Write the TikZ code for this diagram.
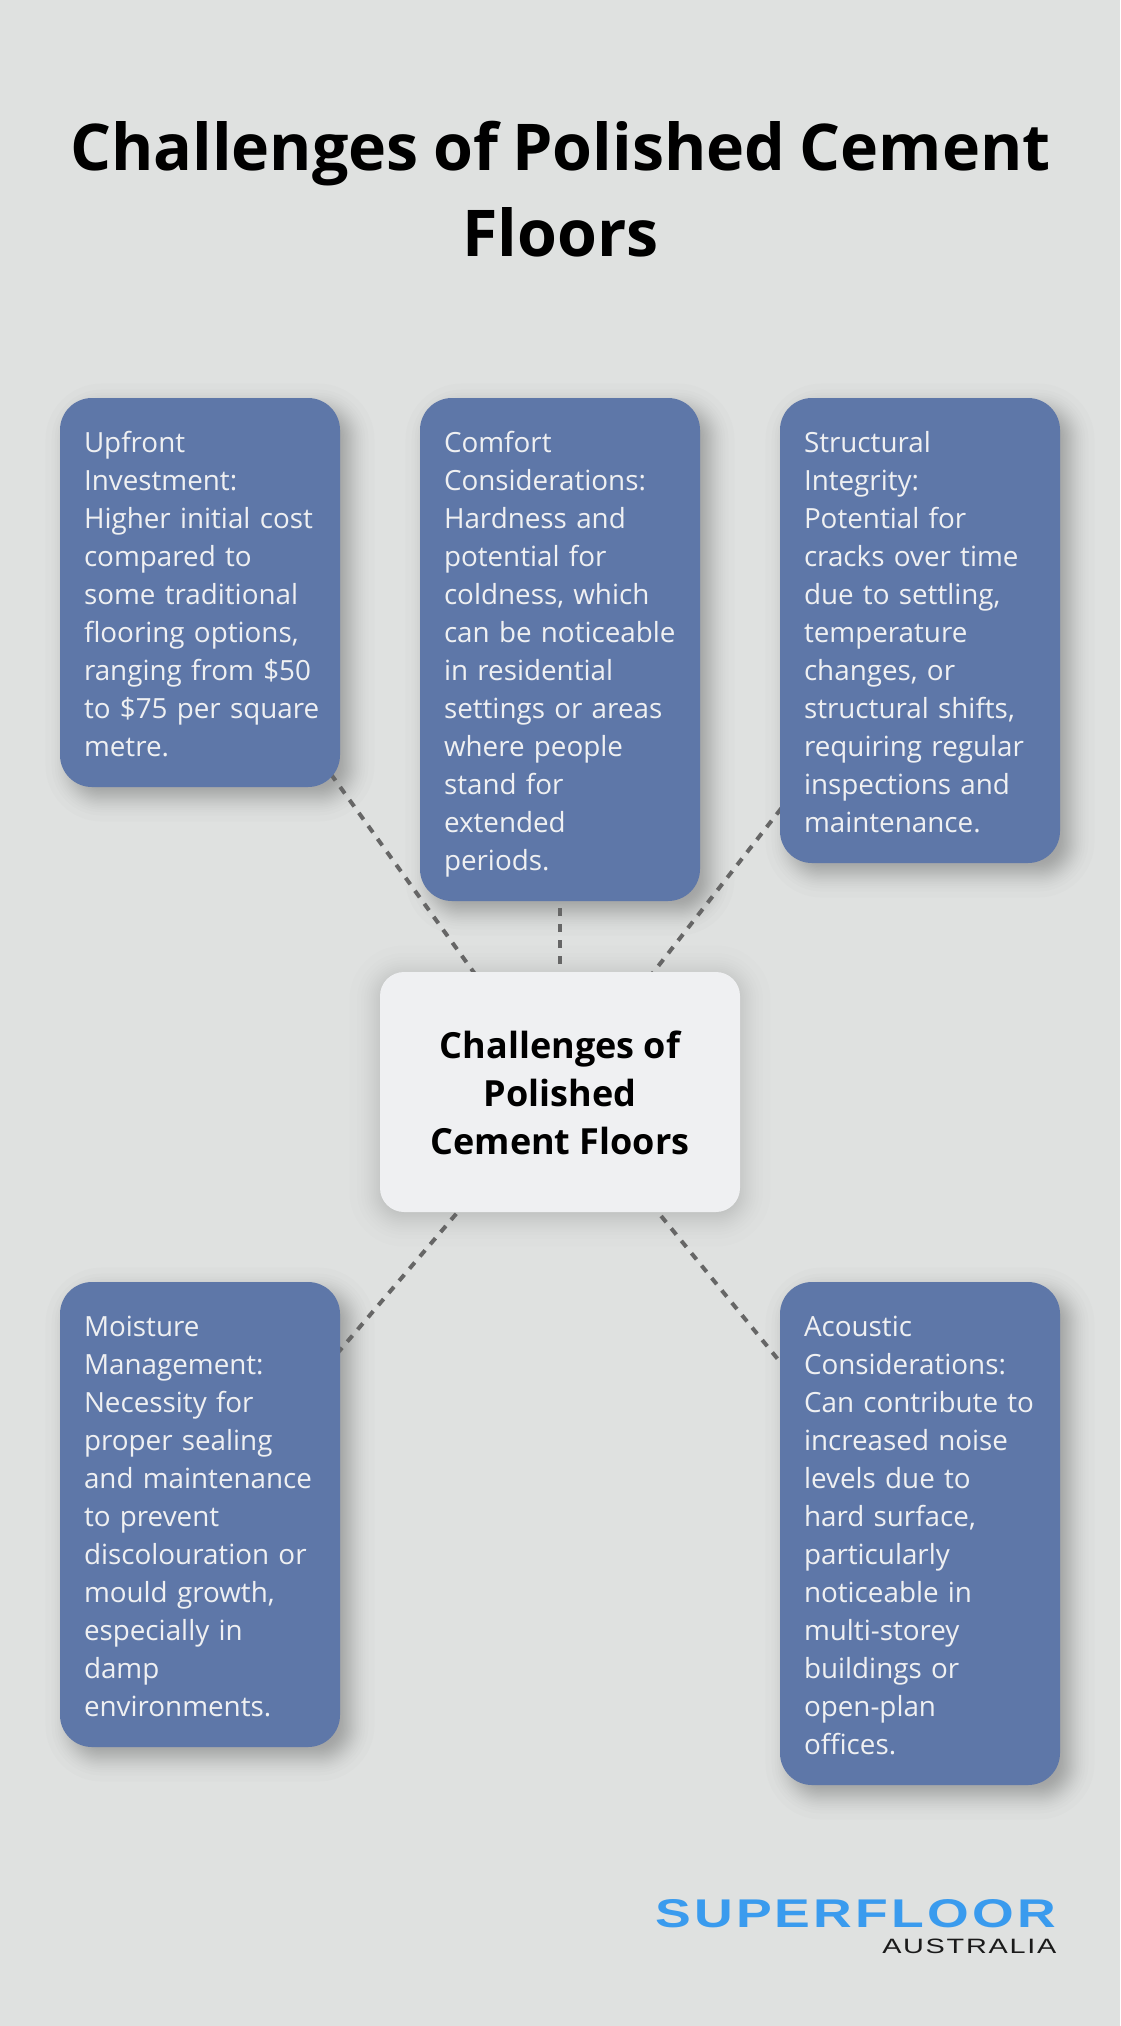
\documentclass[tikz,border=0pt]{standalone}
\usepackage{fontspec}
\usepackage{graphicx}
\setmainfont{Open Sans}
\newfontfamily\cardfont[WordSpace=0.72]{Open Sans}
\newfontfamily\titlefont[WordSpace=0.85]{Open Sans}
\newfontfamily\logofont{Liberation Sans}
\usetikzlibrary{calc}
\pgfdeclarelayer{bglayer}
\pgfdeclarelayer{shadowlayer}
\pgfdeclarelayer{linelayer}
\pgfsetlayers{bglayer,shadowlayer,linelayer,main}
\definecolor{bgcol}{HTML}{DFE1E0}
\definecolor{cardblue}{HTML}{5E77A8}
\definecolor{centrefill}{HTML}{EFF0F2}
\definecolor{linecol}{HTML}{666666}
\definecolor{logoblue}{HTML}{3A9BEE}
\definecolor{logodark}{HTML}{1A1A1A}
\newcommand{\ls}{\vrule height 30.5pt depth 7.5pt width 0pt}
\newcommand{\cl}[1]{\mbox{#1}\\}
% Gaussian-like soft shadow: stacked inflated rounded rectangles at normal quantiles
\newcommand{\softshadow}[6]{% node, radius, dx, dy, sigma, layer alpha
  \begin{pgfonlayer}{shadowlayer}
  \foreach \z in {-2.03,-1.53,-1.26,-1.05,-0.887,-0.74,-0.61,-0.49,-0.374,-0.265,-0.157,-0.052,
                  0.052,0.157,0.265,0.374,0.49,0.61,0.74,0.887,1.05,1.26,1.53,2.03}{
    \pgfmathsetmacro{\s}{#5*\z}
    \pgfmathsetmacro{\rr}{max(#2+\s,0.1)}
    \fill[black,opacity=#6,rounded corners=\rr pt]
      ($(#1.north west)+(#3-\s,#4-\s)$) rectangle ($(#1.south east)+(#3+\s,#4+\s)$);
  }
  \end{pgfonlayer}
}
\tikzset{
  card/.style={rectangle,rounded corners=32pt,fill=cardblue,text=centrefill,
    minimum width=280pt,inner xsep=24pt,inner ysep=0pt,text width=232pt,align=left,
    font=\cardfont\fontsize{27.8}{38}\selectfont},
  centrecard/.style={rectangle,rounded corners=24pt,fill=centrefill,text=black,
    minimum width=360pt,minimum height=240pt,inner sep=0pt,align=center,
    font=\fontsize{36}{48}\selectfont\bfseries},
  titletext/.style={align=center,inner sep=0pt,text=black,
    font=\titlefont\fontsize{64.5}{86}\selectfont\bfseries},
  link/.style={draw=linecol,line width=4pt,dash pattern=on 8pt off 8pt},
}
\begin{document}
\begin{tikzpicture}[x=1pt,y=-1pt]
\begin{pgfonlayer}{bglayer}
\fill[bgcol] (0,0) rectangle (1120,2026);
\end{pgfonlayer}
\useasboundingbox (0,0) rectangle (1120,2026);

\node[titletext] (title) at (560.5,189.5) {Challenges of Polished Cement\\Floors};

\node[card,minimum height=389pt] (upfront) at (200,592.5) {\ls\cl{Upfront}\cl{Investment:}\cl{Higher initial cost}\cl{compared to}\cl{some traditional}\cl{flooring options,}\cl{ranging from \$50}\cl{to \$75 per square}metre.\ls};
\node[card,minimum height=503pt] (comfort) at (560,649.5) {\ls\cl{Comfort}\cl{Considerations:}\cl{Hardness and}\cl{potential for}\cl{coldness, which}\cl{can be noticeable}\cl{in residential}\cl{settings or areas}\cl{where people}\cl{stand for}\cl{extended}periods.\ls};
\node[card,minimum height=465pt] (structural) at (920,630.5) {\ls\cl{Structural}\cl{Integrity:}\cl{Potential for}\cl{cracks over time}\cl{due to settling,}\cl{temperature}\cl{changes, or}\cl{structural shifts,}\cl{requiring regular}\cl{inspections and}maintenance.\ls};
\node[card,minimum height=465pt] (moisture) at (200,1514.5) {\ls\cl{Moisture}\cl{Management:}\cl{Necessity for}\cl{proper sealing}\cl{and maintenance}\cl{to prevent}\cl{discolouration or}\cl{mould growth,}\cl{especially in}\cl{damp}environments.\ls};
\node[card,minimum height=503pt] (acoustic) at (920,1533.5) {\ls\cl{Acoustic}\cl{Considerations:}\cl{Can contribute to}\cl{increased noise}\cl{levels due to}\cl{hard surface,}\cl{particularly}\cl{noticeable in}\cl{multi-storey}\cl{buildings or}\cl{open-plan}offices.\ls};

\node[centrecard] (centre) at (560,1092) {\vrule height 30pt depth 0pt width 0pt Challenges of\\Polished\\Cement Floors};

\foreach \n in {upfront,comfort,structural,moisture,acoustic}{
  \softshadow{\n}{32}{10}{10}{12}{0.013}
}
\softshadow{centre}{24}{0}{4}{15}{0.0093}

\begin{pgfonlayer}{linelayer}
\foreach \n in {upfront,comfort,structural,moisture,acoustic}{
  \draw[link] (centre.center) -- (\n.center);
}
\end{pgfonlayer}

\node[inner sep=0pt,anchor=north west,text=logoblue] (logomain) at (655,1899)
  {\resizebox{401pt}{28pt}{\logofont\bfseries\addfontfeature{LetterSpace=6}SUPERFLOOR}};
\node[inner sep=0pt,anchor=north east,text=logodark] (logosub) at (1056.5,1939)
  {\resizebox{174pt}{14.5pt}{\logofont\addfontfeature{LetterSpace=6}AUSTRALIA}};
\end{tikzpicture}
\end{document}
